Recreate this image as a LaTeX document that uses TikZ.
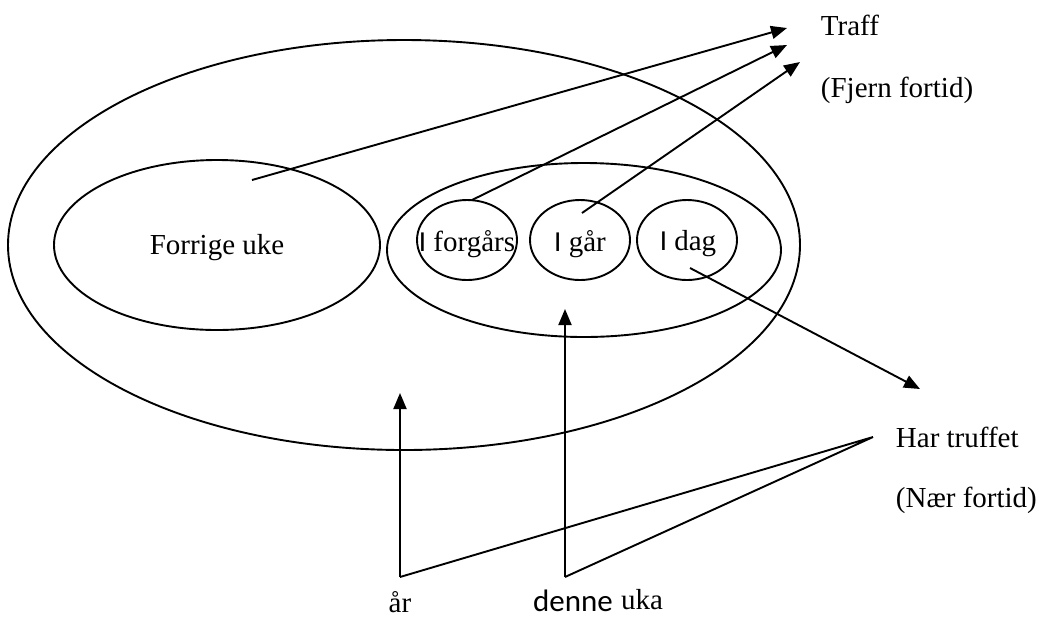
\documentclass[tikz,border=0pt]{standalone}
\usepackage{fontspec}
\setmainfont{Liberation Serif}
\newfontfamily\calfont{Carlito}
\usetikzlibrary{shapes.geometric,arrows.meta}
\begin{document}
\begin{tikzpicture}[x=0.5pt,y=-0.5pt,line width=0.95pt,
  ell/.style={draw,ellipse,inner sep=0pt},
  lbl/.style={font=\fontsize{14.5}{17}\selectfont,inner sep=0pt},
  arr/.style={-{Triangle[length=8pt,width=6.5pt]}}]
\useasboundingbox (0,0) rectangle (1039,618);
% ellipses
\node[ell,minimum width=396pt,minimum height=205pt] (big) at (404,245) {};
\node[ell,minimum width=163pt,minimum height=85pt] (prev) at (217,245) {};
\node[ell,minimum width=197pt,minimum height=87pt] (week) at (584,250) {};
\node[ell,minimum width=50pt,minimum height=40pt] (forg) at (467,240) {};
\node[ell,minimum width=50pt,minimum height=40pt] (igar) at (580,240) {};
\node[ell,minimum width=50pt,minimum height=40pt] (idag) at (687,240) {};
% labels
\node[lbl] (tprev) at (217,248) {Forrige uke};
\node[lbl] (tforg) at (467,244) {{\calfont I} forgårs};
\node[lbl] (tigar) at (580,244) {{\calfont I} går};
\node[lbl] (tidag) at (688,244) {{\calfont I} dag};
\node[lbl,anchor=west] (traff) at (820,25) {Traff};
\node[lbl,anchor=west] (fjern) at (820,90) {(Fjern fortid)};
\node[lbl,anchor=west] (har) at (895,437) {Har truffet};
\node[lbl,anchor=west] (naer) at (895,500) {(Nær fortid)};
\node[lbl] (aar) at (400,602) {år};
\node[lbl,font=\calfont\fontsize{15.5}{17}\selectfont] (denne) at (573,601) {denne};
\node[lbl] (uka) at (642,600) {uka};
% coordinates
\coordinate (s1) at (252,180);
\coordinate (e1) at (787,28);
\coordinate (s2) at (472,200);
\coordinate (e2) at (787,45);
\coordinate (s3) at (582,213);
\coordinate (e3) at (800,62);
\coordinate (s4) at (690,268);
\coordinate (e4) at (920,389);
\coordinate (ar) at (400,577);
\coordinate (ark) at (400,393);
\coordinate (uk) at (565,577);
\coordinate (ukk) at (565,309);
\coordinate (ht) at (873,437);
% connectors
\draw[arr] (s1) -- (e1);
\draw[arr] (s2) -- (e2);
\draw[arr] (s3) -- (e3);
\draw[arr] (s4) -- (e4);
\draw[arr] (ar) -- (ark);
\draw[arr] (uk) -- (ukk);
\draw (ar) -- (ht) -- (uk);
\end{tikzpicture}
\end{document}
